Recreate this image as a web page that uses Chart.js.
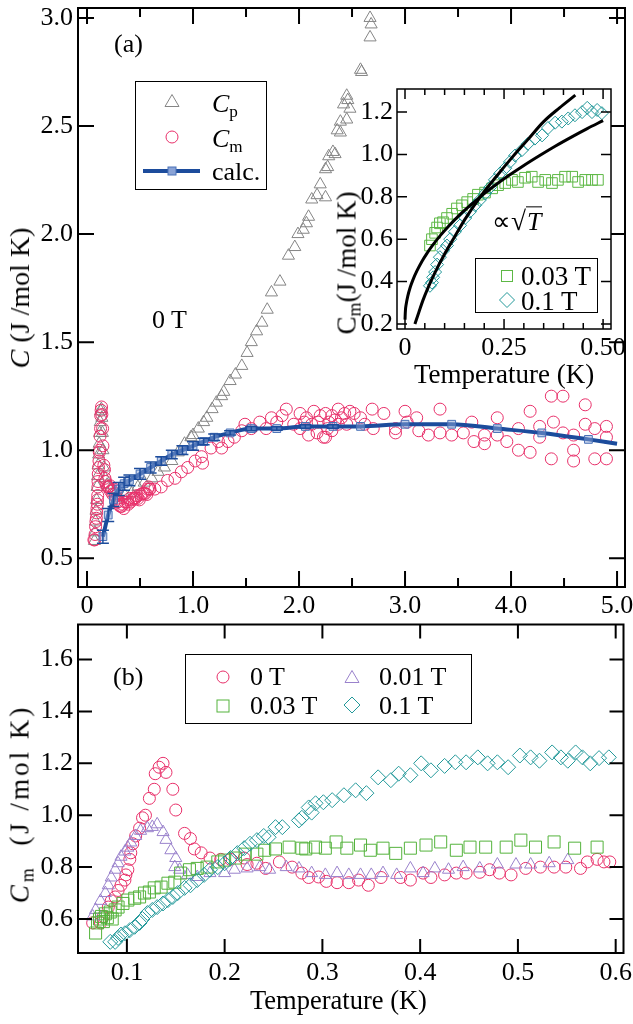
<!DOCTYPE html>
<html>
<head>
<meta charset="utf-8">
<script src="https://cdn.jsdelivr.net/npm/chart.js@4.4.0/dist/chart.umd.min.js"></script>
<style>
  html, body { margin: 0; padding: 0; background: #fff; }
  body { width: 633px; height: 1024px; position: relative; overflow: hidden;
         font-family: "Liberation Serif", "Times New Roman", serif; color: #000; }
  canvas { position: absolute; }
  .t { position: absolute; white-space: nowrap; line-height: 1; transform: translateY(-50%); font-size: 26px; }
  .rot { position: absolute; white-space: nowrap; line-height: 1; font-size: 28px;
         transform: translate(-50%, -50%) rotate(-90deg); }
  .box { position: absolute; border: 1.5px solid #000; background: #fff; box-sizing: border-box; }
  .sym { position: absolute; }
  sub { font-size: 0.66em; vertical-align: -0.28em; line-height: 0; }
</style>
</head>
<body>
<canvas id="chartA" width="633" height="625" style="left:0;top:0"></canvas>
<canvas id="chartB" width="633" height="409" style="left:0;top:615px"></canvas>

<!-- panel (a) texts -->
<div class="t" style="left:114px;top:44px">(a)</div>
<div class="t" style="left:152px;top:320px">0 T</div>
<div class="rot" style="left:20px;top:298px"><i>C</i> (J /mol K)</div>

<div class="box" style="left:135px;top:81px;width:132px;height:109px"></div>
<svg class="sym" width="16" height="16" style="left:164px;top:93px"><polygon points="8,1.5 15,13.5 1,13.5" fill="none" stroke="#858585" stroke-width="1"/></svg>
<svg class="sym" width="16" height="16" style="left:164px;top:129px"><circle cx="8" cy="8" r="6" fill="none" stroke="#e8306a" stroke-width="1"/></svg>
<svg class="sym" width="60" height="16" style="left:143px;top:163px"><line x1="0" y1="8" x2="57" y2="8" stroke="#1c4c9c" stroke-width="4"/><rect x="25" y="4" width="8" height="8" fill="#8aa3d6" stroke="#4a72b8" stroke-width="1"/></svg>
<div class="t" style="left:212px;top:104px"><i>C</i><sub>p</sub></div>
<div class="t" style="left:212px;top:139px"><i>C</i><sub>m</sub></div>
<div class="t" style="left:212px;top:172px">calc.</div>

<!-- panel (b) texts -->
<div class="t" style="left:113px;top:677px">(b)</div>
<div class="rot" style="left:20px;top:804px;font-size:27px;letter-spacing:3px"><i>C</i><sub>m</sub>&nbsp; (J /mol K)</div>
<div class="t" style="left:250px;top:1000px;font-size:26.5px">Temperature (K)</div>

<div class="box" style="left:185px;top:654px;width:287px;height:70px"></div>
<svg class="sym" width="16" height="16" style="left:215px;top:669px"><circle cx="8" cy="8" r="6" fill="none" stroke="#e8306a" stroke-width="1"/></svg>
<svg class="sym" width="16" height="16" style="left:215px;top:698px"><rect x="2" y="2" width="12" height="12" fill="none" stroke="#54b33c" stroke-width="1"/></svg>
<svg class="sym" width="16" height="16" style="left:344px;top:669px"><polygon points="8,1.5 15,13.5 1,13.5" fill="none" stroke="#9a82cc" stroke-width="1"/></svg>
<svg class="sym" width="18" height="18" style="left:343px;top:696px"><polygon points="9,1 17,9 9,17 1,9" fill="none" stroke="#23999a" stroke-width="1"/></svg>
<div class="t" style="left:250px;top:677px">0 T</div>
<div class="t" style="left:250px;top:706px">0.03 T</div>
<div class="t" style="left:379px;top:677px">0.01 T</div>
<div class="t" style="left:379px;top:706px">0.1 T</div>

<!-- inset -->
<canvas id="chartI" width="293" height="300" style="left:340px;top:80px"></canvas>
<div class="rot" style="left:347px;top:263px;font-size:27px">C<sub>m</sub>(J /mol K)</div>
<div class="t" style="left:414px;top:374px;font-size:27px">Temperature (K)</div>
<div class="t" style="left:492px;top:222px">&#8733;<span style="font-size:1.05em">&#8730;</span><span style="border-top:1.5px solid #000;font-style:italic;padding:0 1px">T</span></div>

<div class="box" style="left:475px;top:258px;width:123px;height:55px"></div>
<svg class="sym" width="16" height="16" style="left:499px;top:268px"><rect x="2.5" y="2.5" width="11" height="11" fill="none" stroke="#5db845" stroke-width="1"/></svg>
<svg class="sym" width="18" height="18" style="left:498px;top:291px"><polygon points="9,1.5 16.5,9 9,16.5 1.5,9" fill="none" stroke="#23999a" stroke-width="1"/></svg>
<div class="t" style="left:521px;top:276px;font-size:27px">0.03 T</div>
<div class="t" style="left:521px;top:301px;font-size:27px">0.1 T</div>

<script>
// ---- panel (b) data, also used for low-T part of panel (a) ----
const cm0T = [[0.065,0.585],[0.073,0.585],[0.076,0.61],[0.081,0.646],[0.084,0.67],[0.088,0.685],[0.091,0.71],[0.094,0.73],[0.098,0.75],[0.099,0.77],[0.101,0.79],[0.103,0.83],[0.104,0.855],[0.106,0.89],[0.109,0.92],[0.113,0.95],[0.116,0.99],[0.119,1.0],[0.123,1.065],[0.128,1.10],[0.129,1.16],[0.133,1.185],[0.137,1.20],[0.140,1.165],[0.147,1.10],[0.150,1.02],[0.159,0.93],[0.165,0.91],[0.169,0.87],[0.176,0.855],[0.185,0.835],[0.196,0.83],[0.206,0.83],[0.22,0.835],[0.223,0.81],[0.233,0.815],[0.242,0.795],[0.256,0.82],[0.269,0.80],[0.279,0.777],[0.286,0.76],[0.296,0.762],[0.304,0.745],[0.315,0.74],[0.327,0.74],[0.337,0.75],[0.347,0.73],[0.36,0.76],[0.38,0.76],[0.39,0.75],[0.403,0.777],[0.411,0.76],[0.425,0.77],[0.437,0.777],[0.447,0.777],[0.461,0.78],[0.471,0.79],[0.481,0.777],[0.493,0.77],[0.508,0.795],[0.523,0.80],[0.537,0.80],[0.549,0.80],[0.564,0.795],[0.571,0.82],[0.581,0.83],[0.588,0.82],[0.594,0.82]];
const cm001T = [[0.065,0.61],[0.068,0.635],[0.073,0.67],[0.078,0.70],[0.081,0.73],[0.084,0.76],[0.088,0.79],[0.091,0.815],[0.094,0.84],[0.098,0.86],[0.101,0.875],[0.104,0.895],[0.109,0.92],[0.114,0.94],[0.121,0.95],[0.126,0.955],[0.131,0.965],[0.137,0.935],[0.14,0.905],[0.145,0.865],[0.15,0.835],[0.149,0.80],[0.154,0.79],[0.162,0.77],[0.172,0.762],[0.185,0.777],[0.2,0.777],[0.21,0.79],[0.223,0.795],[0.236,0.80],[0.246,0.79],[0.263,0.80],[0.276,0.795],[0.289,0.777],[0.303,0.77],[0.315,0.777],[0.327,0.77],[0.339,0.77],[0.35,0.77],[0.362,0.777],[0.376,0.77],[0.39,0.795],[0.403,0.777],[0.415,0.795],[0.429,0.79],[0.444,0.80],[0.461,0.795],[0.479,0.81],[0.498,0.81],[0.513,0.81],[0.532,0.815],[0.551,0.827]];
const cm003T = [[0.068,0.546],[0.07,0.585],[0.072,0.60],[0.074,0.61],[0.076,0.59],[0.078,0.62],[0.08,0.605],[0.083,0.627],[0.085,0.60],[0.088,0.635],[0.091,0.646],[0.096,0.66],[0.101,0.673],[0.108,0.68],[0.113,0.685],[0.118,0.70],[0.123,0.704],[0.128,0.72],[0.135,0.723],[0.142,0.738],[0.149,0.742],[0.155,0.777],[0.164,0.79],[0.172,0.795],[0.182,0.80],[0.193,0.82],[0.2,0.827],[0.211,0.835],[0.221,0.85],[0.233,0.85],[0.241,0.865],[0.252,0.87],[0.266,0.877],[0.279,0.873],[0.283,0.87],[0.293,0.877],[0.303,0.873],[0.314,0.897],[0.325,0.873],[0.339,0.885],[0.349,0.865],[0.362,0.873],[0.375,0.853],[0.39,0.873],[0.406,0.885],[0.421,0.897],[0.437,0.865],[0.451,0.877],[0.467,0.877],[0.488,0.877],[0.503,0.904],[0.518,0.877],[0.537,0.897],[0.558,0.873],[0.581,0.877]];
const cm01T = [[0.083,0.512],[0.088,0.512],[0.091,0.527],[0.094,0.54],[0.098,0.545],[0.103,0.557],[0.108,0.57],[0.113,0.585],[0.116,0.60],[0.121,0.623],[0.126,0.635],[0.131,0.646],[0.137,0.66],[0.142,0.673],[0.147,0.685],[0.152,0.70],[0.159,0.72],[0.165,0.73],[0.172,0.75],[0.179,0.77],[0.185,0.79],[0.193,0.80],[0.2,0.815],[0.206,0.835],[0.213,0.854],[0.22,0.873],[0.226,0.89],[0.233,0.904],[0.24,0.92],[0.245,0.915],[0.252,0.954],[0.259,0.954],[0.276,0.98],[0.279,0.99],[0.286,1.03],[0.289,1.01],[0.293,1.046],[0.301,1.05],[0.31,1.058],[0.322,1.077],[0.334,1.096],[0.345,1.085],[0.357,1.146],[0.37,1.135],[0.378,1.16],[0.39,1.154],[0.401,1.20],[0.411,1.173],[0.425,1.19],[0.436,1.204],[0.447,1.204],[0.459,1.223],[0.469,1.20],[0.479,1.204],[0.49,1.185],[0.502,1.23],[0.513,1.223],[0.522,1.21],[0.535,1.242],[0.544,1.223],[0.551,1.21],[0.559,1.242],[0.566,1.223],[0.574,1.20],[0.583,1.22],[0.593,1.223]];

// ---- panel (a) data ----
const cmHighT = [[0.64,0.82],[0.70,0.83],[0.76,0.86],[0.83,0.87],[0.89,0.90],[0.95,0.92],[1.02,0.95],[1.08,0.97],[1.09,0.94],[1.17,1.01],[1.24,1.04],[1.27,1.01],[1.33,1.04],[1.39,1.06],[1.46,1.09],[1.49,1.12],[1.55,1.10],[1.63,1.13],[1.69,1.10],[1.74,1.15],[1.79,1.13],[1.84,1.16],[1.88,1.19],[1.95,1.12],[2.01,1.17],[2.01,1.10],[2.05,1.13],[2.07,1.15],[2.09,1.07],[2.12,1.12],[2.14,1.18],[2.17,1.08],[2.18,1.13],[2.20,1.16],[2.23,1.06],[2.25,1.17],[2.25,1.06],[2.27,1.10],[2.28,1.13],[2.31,1.16],[2.31,1.09],[2.34,1.14],[2.37,1.19],[2.37,1.12],[2.40,1.15],[2.43,1.17],[2.45,1.12],[2.48,1.18],[2.52,1.17],[2.58,1.15],[2.62,1.12],[2.69,1.19],[2.70,1.10],[2.80,1.17],[2.91,1.08],[2.91,1.10],[3.00,1.18],[3.02,1.13],[3.11,1.15],[3.13,1.09],[3.22,1.07],[3.33,1.19],[3.33,1.08],[3.44,1.07],[3.55,1.08],[3.63,1.13],[3.65,1.04],[3.75,1.03],[3.75,1.07],[3.87,1.15],[3.87,1.07],[3.96,1.04],[4.07,1.10],[4.07,1.00],[4.18,0.99],[4.18,1.18],[4.27,1.11],[4.27,1.06],[4.38,1.25],[4.49,1.25],[4.40,1.13],[4.38,0.96],[4.49,1.08],[4.59,1.00],[4.59,0.95],[4.59,1.07],[4.70,1.21],[4.70,1.12],[4.79,1.10],[4.79,0.96],[4.90,1.11],[4.90,1.06],[4.90,0.96]];
const cp0T = [[0.07,0.58],[0.075,0.62],[0.08,0.67],[0.085,0.72],[0.09,0.77],[0.095,0.83],[0.1,0.88],[0.105,0.93],[0.11,0.98],[0.115,1.03],[0.12,1.08],[0.125,1.13],[0.13,1.18],[0.135,1.19],[0.14,1.15],[0.145,1.08],[0.15,1.0],[0.16,0.92],[0.17,0.87],[0.19,0.84],[0.22,0.82],[0.26,0.8],[0.3,0.78],[0.36,0.79],[0.42,0.80],[0.48,0.83],[0.54,0.85],[0.61,0.87],[0.67,0.90],[0.73,0.92],[0.80,0.95],[0.86,0.99],[0.92,1.03],[0.98,1.06],[1.00,1.07],[1.05,1.10],[1.10,1.13],[1.13,1.15],[1.18,1.19],[1.22,1.22],[1.27,1.25],[1.29,1.27],[1.35,1.32],[1.40,1.35],[1.46,1.39],[1.51,1.45],[1.55,1.50],[1.60,1.55],[1.65,1.59],[1.70,1.65],[1.74,1.73],[1.82,1.78],[1.90,1.90],[1.96,1.94],[1.99,2.0],[2.04,2.02],[2.07,2.05],[2.09,2.08],[2.12,2.16],[2.17,2.18],[2.20,2.23],[2.25,2.17],[2.25,2.30],[2.27,2.31],[2.28,2.36],[2.32,2.38],[2.34,2.37],[2.36,2.48],[2.39,2.47],[2.39,2.52],[2.42,2.60],[2.45,2.53],[2.45,2.64],[2.46,2.62],[2.48,2.58],[2.58,2.76],[2.59,2.75],[2.67,2.91],[2.68,2.97],[2.67,3.0]];
const calcT = [0.15,0.2,0.25,0.3,0.35,0.4,0.5,0.6,0.7,0.8,0.9,1.0,1.1,1.2,1.35,1.55,1.79,2.06,2.32,2.58,3.0,3.44,3.87,4.29,4.73,5.0];
const calcC = [0.60,0.70,0.77,0.82,0.845,0.86,0.89,0.92,0.95,0.98,1.00,1.02,1.04,1.06,1.08,1.10,1.10,1.11,1.11,1.11,1.12,1.12,1.10,1.08,1.05,1.03];
const calcErr = [0.03,0.03,0.03,0.03,0.03,0.025,0.025,0.025,0.02,0.02,0.02,0.02,0.015,0.015,0.01,0.01,0.008,0.008,0.008,0,0,0,0,0,0,0];

// ---- inset data ----
const in003T = [[0.063,0.57],[0.068,0.60],[0.076,0.63],[0.081,0.655],[0.088,0.675],[0.096,0.68],[0.106,0.70],[0.119,0.72],[0.131,0.745],[0.144,0.76],[0.157,0.775],[0.172,0.79],[0.184,0.81],[0.202,0.82],[0.22,0.84],[0.235,0.855],[0.253,0.865],[0.27,0.88],[0.285,0.87],[0.303,0.89],[0.32,0.895],[0.336,0.87],[0.354,0.88],[0.371,0.865],[0.386,0.88],[0.404,0.895],[0.422,0.895],[0.437,0.87],[0.455,0.88],[0.472,0.88],[0.487,0.88]];
const in01T = [[0.063,0.38],[0.068,0.395],[0.071,0.42],[0.076,0.445],[0.081,0.48],[0.088,0.515],[0.096,0.545],[0.106,0.57],[0.114,0.60],[0.126,0.635],[0.139,0.665],[0.152,0.70],[0.164,0.73],[0.177,0.76],[0.189,0.785],[0.202,0.815],[0.215,0.845],[0.227,0.88],[0.24,0.91],[0.253,0.935],[0.265,0.965],[0.278,0.995],[0.295,1.02],[0.31,1.05],[0.328,1.075],[0.346,1.09],[0.361,1.125],[0.379,1.15],[0.396,1.155],[0.412,1.17],[0.429,1.185],[0.447,1.20],[0.46,1.22],[0.472,1.20],[0.485,1.21],[0.497,1.195]];
const fitSqrt = [[0,0.22],[0.001,0.262],[0.003,0.293],[0.007,0.331],[0.013,0.372],[0.02,0.408],[0.03,0.45],[0.043,0.496],[0.055,0.532],[0.068,0.567],[0.09,0.619],[0.11,0.661],[0.14,0.718],[0.17,0.768],[0.2,0.815],[0.23,0.858],[0.26,0.898],[0.3,0.948],[0.34,0.995],[0.38,1.04],[0.42,1.082],[0.46,1.122],[0.5,1.16]];
const fitSteep = [[0.025,0.20],[0.035,0.255],[0.045,0.31],[0.058,0.37],[0.075,0.44],[0.1,0.53],[0.125,0.61],[0.15,0.69],[0.19,0.80],[0.23,0.895],[0.27,0.985],[0.31,1.07],[0.35,1.155],[0.39,1.22],[0.43,1.28]];

const RED = '#e8306a', GRAY = '#858585', BLUE = '#1c4c9c', PURPLE = '#9a82cc', GREEN = '#54b33c', TEAL = '#23999a';
const FONT = "'Liberation Serif', 'Times New Roman', serif";

const pts = arr => arr.map(p => ({ x: p[0], y: p[1] }));

// frame + inward ticks on all four sides
const frameTicks = {
  id: 'frameTicks',
  beforeDatasetsDraw(chart, args, opts) {
    if (!opts.fill) return;
    const a = chart.chartArea, ctx = chart.ctx;
    ctx.save();
    ctx.fillStyle = opts.fill;
    ctx.fillRect(a.left, a.top, a.right - a.left, a.bottom - a.top);
    ctx.restore();
  },
  afterDraw(chart, args, opts) {
    const ctx = chart.ctx, a = chart.chartArea;
    const xs = chart.scales.x, ys = chart.scales.y;
    ctx.save();
    ctx.strokeStyle = '#000';
    ctx.lineWidth = opts.lineWidth || 2;
    ctx.strokeRect(a.left, a.top, a.right - a.left, a.bottom - a.top);
    ctx.beginPath();
    const tickX = (v, len) => {
      const p = xs.getPixelForValue(v);
      ctx.moveTo(p, a.bottom); ctx.lineTo(p, a.bottom - len);
      ctx.moveTo(p, a.top); ctx.lineTo(p, a.top + len);
    };
    const tickY = (v, len) => {
      const p = ys.getPixelForValue(v);
      ctx.moveTo(a.left, p); ctx.lineTo(a.left + len, p);
      ctx.moveTo(a.right, p); ctx.lineTo(a.right - len, p);
    };
    const minors = (scale, step, majors) => {
      const out = [];
      for (let v = Math.ceil(scale.min / step) * step; v <= scale.max + 1e-9; v += step) {
        if (!majors.some(m => Math.abs(m - v) < step / 10)) out.push(v);
      }
      return out;
    };
    const xMaj = xs.ticks.map(t => t.value), yMaj = ys.ticks.map(t => t.value);
    xMaj.forEach(v => tickX(v, opts.major));
    yMaj.forEach(v => tickY(v, opts.major));
    if (opts.xMinor) minors(xs, opts.xMinor, xMaj).forEach(v => tickX(v, opts.minor));
    if (opts.yMinor) minors(ys, opts.yMinor, yMaj).forEach(v => tickY(v, opts.minor));
    ctx.stroke();
    ctx.restore();
  }
};

// vertical error bars for datasets that carry an "errors" array
const errorBars = {
  id: 'errorBars',
  afterDatasetsDraw(chart) {
    const ctx = chart.ctx, ys = chart.scales.y;
    chart.data.datasets.forEach((ds, i) => {
      if (!ds.errors) return;
      const meta = chart.getDatasetMeta(i);
      ctx.save();
      ctx.strokeStyle = ds.borderColor;
      ctx.lineWidth = 1.5;
      ctx.beginPath();
      meta.data.forEach((el, j) => {
        const e = ds.errors[j];
        if (!e) return;
        const v = ds.data[j].y;
        const y1 = ys.getPixelForValue(v + e), y2 = ys.getPixelForValue(v - e);
        ctx.moveTo(el.x, y1); ctx.lineTo(el.x, y2);
        ctx.moveTo(el.x - 6, y1); ctx.lineTo(el.x + 6, y1);
        ctx.moveTo(el.x - 6, y2); ctx.lineTo(el.x + 6, y2);
      });
      ctx.stroke();
      ctx.restore();
    });
  }
};

function fixedSize(size) {
  return function (scale) {
    if (scale.isHorizontal()) scale.height = size; else scale.width = size;
    scale.paddingTop = 0; scale.paddingBottom = 0;
    scale.paddingLeft = 0; scale.paddingRight = 0;
  };
}

function axis(min, max, step, size, fmt, pad) {
  return {
    type: 'linear', min: min, max: max,
    afterFit: fixedSize(size),
    grid: { display: false, drawTicks: false },
    border: { display: false },
    ticks: {
      stepSize: step, includeBounds: false, autoSkip: false, maxRotation: 0,
      padding: pad, color: '#000', font: { family: FONT, size: 26 },
      callback: fmt
    }
  };
}

function marker(label, data, color, style, radius) {
  return {
    label: label, data: pts(data), showLine: false,
    pointStyle: style, pointRadius: radius, pointBorderWidth: 1,
    borderColor: color, pointBorderColor: color, backgroundColor: 'transparent',
    pointBackgroundColor: 'transparent'
  };
}

const fmt1 = v => v.toFixed(1);

// panel (a)
new Chart(document.getElementById('chartA'), {
  type: 'scatter',
  data: {
    datasets: [
      {
        label: 'calc.', type: 'line',
        data: calcT.map((t, i) => ({ x: t, y: calcC[i] })),
        errors: calcErr,
        showLine: true, borderColor: BLUE, borderWidth: 4,
        cubicInterpolationMode: 'monotone', fill: false,
        pointStyle: 'rect',
        pointRadius: ctx => ctx.dataIndex === calcT.length - 1 ? 0 : 5.5,
        pointBorderColor: '#4a72b8', pointBackgroundColor: 'rgba(138,163,214,0.5)', pointBorderWidth: 1
      },
      marker('Cm', cm0T.concat(cmHighT), RED, 'circle', 6),
      marker('Cp', cp0T, GRAY, 'triangle', 7)
    ]
  },
  options: {
    responsive: false, animation: false,
    layout: { padding: { left: 0, right: 8, top: 3, bottom: 0 } },
    plugins: {
      legend: { display: false }, tooltip: { enabled: false },
      frameTicks: { major: 16, minor: 9, xMinor: 0.5, lineWidth: 2 }
    },
    scales: {
      x: axis(-0.085, 5.075, 1, 38, v => v === 0 ? '0' : v.toFixed(1), 4),
      y: axis(0.367, 3.046, 0.5, 78, fmt1, 5)
    }
  },
  plugins: [frameTicks, errorBars]
});

// panel (b)
new Chart(document.getElementById('chartB'), {
  type: 'scatter',
  data: {
    datasets: [
      marker('0.1 T', cm01T, TEAL, 'rectRot', 7.5),
      marker('0.03 T', cm003T, GREEN, 'rect', 8.5),
      marker('0.01 T', cm001T, PURPLE, 'triangle', 7),
      marker('0 T', cm0T, RED, 'circle', 6)
    ]
  },
  options: {
    responsive: false, animation: false,
    layout: { padding: { left: 0, right: 7, top: 9, bottom: 0 } },
    plugins: {
      legend: { display: false }, tooltip: { enabled: false },
      frameTicks: { major: 14, minor: 7, lineWidth: 2 }
    },
    scales: {
      x: axis(0.05, 0.608, 0.1, 71, fmt1, 5),
      y: axis(0.469, 1.735, 0.2, 78, fmt1, 5)
    }
  },
  plugins: [frameTicks]
});

// inset
new Chart(document.getElementById('chartI'), {
  type: 'scatter',
  data: {
    datasets: [
      { label: 'fit1', type: 'line', data: pts(fitSqrt), showLine: true, borderColor: '#000', borderWidth: 3, pointRadius: 0, cubicInterpolationMode: 'monotone', fill: false },
      { label: 'fit2', type: 'line', data: pts(fitSteep), showLine: true, borderColor: '#000', borderWidth: 3, pointRadius: 0, cubicInterpolationMode: 'monotone', fill: false },
      marker('0.1 T', in01T, TEAL, 'rectRot', 6.5),
      marker('0.03 T', in003T, '#5db845', 'rect', 7.5)
    ]
  },
  options: {
    responsive: false, animation: false,
    layout: { padding: { left: 0, right: 22, top: 9, bottom: 0 } },
    plugins: {
      legend: { display: false }, tooltip: { enabled: false },
      frameTicks: { major: 10, minor: 6, xMinor: 0.05, lineWidth: 1.5, fill: '#fff' }
    },
    scales: {
      x: axis(-0.0202, 0.52, 0.25, 51, v => v === 0 ? '0' : v.toFixed(2), 4),
      y: axis(0.176, 1.309, 0.2, 57, fmt1, 4)
    }
  },
  plugins: [frameTicks]
});
</script>
</body>
</html>
